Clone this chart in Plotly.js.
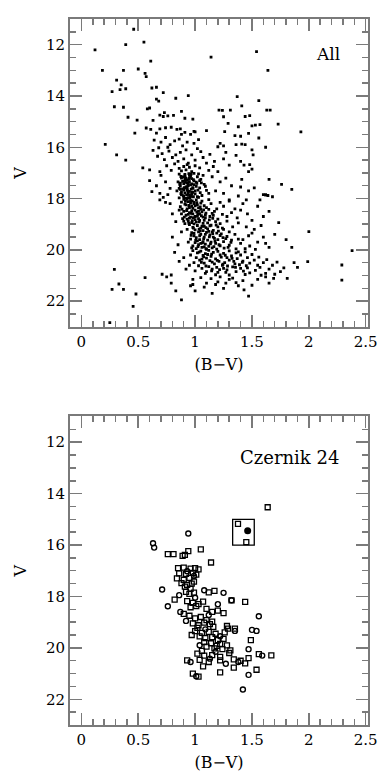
<!DOCTYPE html>
<html>
<head>
<meta charset="utf-8">
<script src="https://cdn.plot.ly/plotly-3.0.1.min.js"></script>
<style>
  html, body { margin: 0; padding: 0; background: #fff; }
  #cmd { width: 387px; height: 782px; }
</style>
</head>
<body>
<div id="cmd"></div>
<script>
// ---- data: (B-V, V) pairs ----

// top panel "All": sparse bright stars
const allBright = [
  [0.46,11.4],[0.55,11.9],[0.12,12.2],[0.39,12.0],[0.61,12.64],[0.185,13.0],[0.37,13.0],[0.5,12.95],
  [1.14,12.49],[1.54,12.27],[1.64,13.0],[0.56,13.12],[0.57,13.25],[0.31,13.38],[0.35,13.57],[0.27,13.83],
  [0.34,13.75],[0.39,13.72],[0.62,13.69],[0.66,13.66],[0.72,13.87],[0.94,13.99],[1.37,14.03],[0.83,14.09],
  [0.66,14.12],[0.68,14.2],[1.56,14.18],[0.29,14.42],[0.37,14.44],[0.6,14.47],[0.58,14.5],[1.41,14.39],
  [1.21,14.55],[1.24,14.56],[1.31,14.55],[1.63,14.55],[1.66,14.55],[0.69,14.75],[0.72,14.8],[0.76,14.78],
  [0.81,14.76],[0.91,14.87],[0.49,14.94],[0.41,14.83],[1.25,14.81],[1.44,14.8],[1.48,14.77],[0.73,14.65],
  [0.63,14.95],[0.88,14.6],[0.98,14.9]
];

// top panel: V 15 - 17
const allUpper = [
  [1.29,15.07],[1.38,15.2],[1.5,15.17],[1.53,15.14],[1.57,15.12],[1.73,15.1],[0.47,15.45],[0.57,15.25],
  [0.61,15.3],[0.66,15.45],[0.69,15.28],[0.74,15.24],[0.79,15.22],[0.84,15.3],[0.87,15.28],[0.88,15.5],
  [0.91,15.42],[0.96,15.5],[0.99,15.38],[1.1,15.35],[1.0,15.4],[1.26,15.39],[1.93,15.4],[1.35,15.55],
  [1.4,15.57],[1.47,15.46],[1.56,15.64],[1.03,15.7],[0.99,15.85],[1.22,15.85],[1.25,15.95],[1.2,15.98],
  [1.36,15.9],[1.41,15.88],[1.44,15.9],[1.62,16.0],[0.21,15.89],[0.64,15.72],[0.7,15.8],[0.74,15.62],
  [0.78,15.9],[0.82,15.75],[0.86,15.68],[0.93,15.8],[0.76,16.0],[0.89,15.95],[0.68,16.02],
  [0.31,16.3],[0.39,16.5],[0.54,16.8],[0.6,16.88],[1.5,16.1],[1.51,16.3],[1.05,16.17],[1.36,16.32],
  [1.4,16.55],[1.43,16.7],[1.48,16.68],[1.5,16.85],[1.47,16.95],[0.63,16.12],[0.67,16.35],[0.71,16.25],
  [0.73,16.48],[0.77,16.15],[0.8,16.4],[0.83,16.3],[0.85,16.55],[0.87,16.2],[0.9,16.45],[0.92,16.1],
  [0.94,16.62],[0.97,16.3],[1.0,16.5],[1.02,16.05],[1.07,16.4],[1.1,16.62],[1.13,16.28],[1.17,16.55],
  [1.0,16.72],[1.04,16.8],[1.12,16.9],[1.16,16.75],[1.2,16.95],[0.75,16.72],[0.79,16.9],[0.82,16.65],
  [0.86,16.82],[0.88,16.92],[0.9,16.75],[0.92,16.88],[0.95,16.78],[0.97,16.95],[0.93,16.68],[1.25,16.45],
  [1.3,16.7],[1.27,16.2],[0.69,16.95]
];

// top panel: V 17 - 18
const all17 = [
  [0.86,17.05],[0.91,17.12],[0.95,17.08],[0.88,17.2],[1.02,17.15],[0.93,17.28],[0.97,17.22],[0.85,17.35],
  [0.99,17.31],[1.05,17.25],[0.9,17.42],[0.94,17.38],[0.87,17.5],[1.08,17.45],[0.96,17.47],[0.92,17.55],
  [1.01,17.52],[0.89,17.62],[0.98,17.6],[1.04,17.58],[0.84,17.7],[0.93,17.66],[0.95,17.72],[1.1,17.68],
  [0.91,17.78],[0.97,17.75],[0.88,17.85],[1.0,17.82],[0.94,17.8],[1.06,17.88],[0.9,17.92],[0.96,17.9],
  [0.86,17.97],[1.03,17.95],[0.92,17.99],[0.99,17.02],[0.95,17.18],[0.89,17.33],[1.07,17.1],[0.93,17.4],
  [0.98,17.57],[0.87,17.64],[1.01,17.36],[0.94,17.49],[0.91,17.27],[1.12,17.8],[0.96,17.13],[0.9,17.67],
  [0.97,17.43],[1.02,17.93],[0.88,17.74],[0.93,17.54],[0.95,17.87],[1.04,17.3],[0.92,17.21],[0.99,17.46],
  [0.86,17.6],[0.94,17.96],[1.0,17.7],[0.91,17.06],[0.97,17.84],[0.89,17.16],[1.09,17.52],[0.95,17.34],
  [0.93,17.62],[0.98,17.76],[0.87,17.4],[1.03,17.04],[0.96,17.91],[0.92,17.58],
  [0.875,17.14],[0.915,17.19],[0.945,17.03],[0.985,17.26],[1.015,17.41],[0.865,17.45],[0.905,17.57],[0.935,17.71],
  [0.965,17.63],[1.025,17.67],[0.895,17.89],[0.955,17.98],[0.985,17.93],[1.045,17.77],[0.915,17.37],[0.875,17.81],
  [1.055,17.39],[0.945,17.24],[0.925,17.86],[0.965,17.05],
  [1.41,17.25],[1.65,17.25],[1.76,17.45],[1.85,17.64],[1.4,17.55],[1.47,17.7],[1.52,17.58],[1.6,17.85],
  [1.64,17.88],[1.38,17.9],[1.62,17.86],[1.68,17.93],[0.62,17.73],[0.69,17.8],[0.72,17.95],[0.76,17.85],
  [1.27,17.2],[1.32,17.5],[1.22,17.35],[1.18,17.7],[1.25,17.8],[1.15,17.15],[0.7,17.1],[0.74,17.35],
  [0.78,17.6],[0.6,17.3],[0.66,17.5]
];

// top panel: V 18 - 19
const all18 = [
  [0.9,18.03],[0.96,18.08],[1.01,18.05],[0.88,18.14],[0.94,18.12],[1.05,18.18],[0.99,18.2],[0.92,18.25],
  [1.08,18.28],[0.87,18.32],[0.97,18.3],[1.03,18.36],[0.93,18.4],[1.12,18.42],[1.0,18.45],[0.9,18.5],
  [0.95,18.55],[1.06,18.52],[0.98,18.6],[1.15,18.58],[0.92,18.65],[1.02,18.68],[0.96,18.72],[1.09,18.75],
  [0.89,18.78],[1.0,18.82],[1.04,18.85],[0.94,18.88],[1.18,18.9],[0.97,18.94],[1.07,18.97],[0.91,18.98],
  [1.13,18.7],[1.2,18.8],[0.99,18.15],[1.02,18.25],[0.95,18.35],[1.1,18.35],[0.86,18.45],[1.04,18.6],
  [1.0,18.7],[0.93,18.8],[1.11,18.95],[1.16,18.65],[0.97,18.48],[1.06,18.1],[0.91,18.22],[1.01,18.92],
  [0.98,18.38],[1.14,18.2],[0.94,18.62],[1.08,18.85],[1.03,18.5],[0.96,18.18],[1.22,18.98],[0.9,18.88],
  [1.05,18.42],[1.0,18.28],[1.17,18.5],[0.95,18.76],[1.12,18.04],[0.88,18.6],[1.09,18.64],[0.99,18.99],
  [1.03,18.78],[0.93,18.02],[1.19,18.4],[1.07,18.72],
  [0.915,18.11],[0.945,18.27],[0.975,18.09],[1.015,18.16],[1.045,18.33],[0.885,18.41],[0.925,18.47],[0.965,18.58],
  [1.025,18.62],[1.075,18.44],[0.905,18.72],[0.985,18.74],[1.055,18.67],[1.125,18.83],[0.945,18.97],[1.035,18.91],
  [1.095,18.57],[0.975,18.86],[1.155,18.77],[1.015,18.53],
  [1.25,18.3],[1.32,18.55],[1.28,18.88],[1.37,18.75],[1.22,18.15],[1.4,18.45],[1.3,18.05],[1.24,18.62],
  [0.69,18.05],[0.74,18.15],[0.78,18.2],[0.8,18.6],[0.83,18.9],[1.3,18.1],[1.35,18.4],[1.42,18.2],
  [1.46,18.6],[1.5,18.85],[1.55,18.3],[1.6,18.7],[1.735,18.94],[1.28,18.7],[1.38,18.95],[1.65,18.5],
  [1.45,18.05],[1.57,18.05],[1.62,17.86]
];

// top panel: V 19 - 20
const all19 = [
  [0.95,19.02],[1.02,19.05],[1.08,19.08],[1.14,19.04],[0.98,19.12],[1.05,19.15],[1.2,19.1],[1.11,19.18],
  [0.93,19.2],[1.0,19.22],[1.07,19.25],[1.16,19.24],[1.25,19.2],[1.03,19.3],[0.97,19.33],[1.1,19.32],
  [1.19,19.35],[1.3,19.3],[1.05,19.4],[1.13,19.42],[0.99,19.45],[1.22,19.44],[1.08,19.5],[1.01,19.52],
  [1.16,19.5],[1.28,19.48],[1.35,19.4],[0.96,19.58],[1.04,19.6],[1.11,19.62],[1.2,19.6],[1.07,19.68],
  [1.14,19.7],[1.0,19.72],[1.25,19.68],[1.32,19.62],[1.18,19.75],[1.03,19.8],[1.09,19.78],[1.4,19.75],
  [0.98,19.85],[1.12,19.86],[1.22,19.84],[1.06,19.9],[1.15,19.92],[1.29,19.9],[1.01,19.95],[1.19,19.97],
  [1.36,19.96],[1.1,19.98],[0.94,19.7],[1.24,19.15],[1.33,19.1],[1.17,19.55],[1.06,19.08],[1.12,19.28],
  [0.99,19.36],[1.27,19.56],[1.02,19.65],[1.09,19.4],[1.21,19.8],[1.13,19.06],[1.04,19.45],[1.3,19.82],
  [1.15,19.3],[1.08,19.88],[0.97,19.92],[1.38,19.58],[1.23,19.38],[1.05,19.75],
  [0.985,19.15],[1.035,19.19],[1.095,19.13],[1.155,19.37],[1.045,19.27],[1.075,19.57],[1.125,19.49],[1.005,19.63],
  [1.175,19.66],[1.245,19.52],[1.065,19.73],[1.135,19.77],[1.025,19.87],[1.165,19.87],[1.255,19.93],[1.095,19.95],
  [1.205,19.27],[1.185,19.03],[1.315,19.71],[0.965,19.43],
  [1.45,19.1],[1.5,19.35],[1.42,19.6],[1.55,19.7],[1.48,19.85],[1.6,19.5],[1.65,19.9],[1.52,19.2],
  [1.44,19.95],[1.58,19.05],[1.7,19.4],[1.8,19.6],[1.85,19.9],[1.62,19.75],[1.47,19.45],[1.53,19.98],
  [0.45,19.27],[2.0,19.29],[0.8,19.5],[0.85,19.8],[0.88,19.3]
];

// top panel: V 20 - 23
const all20 = [
  [0.98,20.03],[1.05,20.05],[1.12,20.02],[1.2,20.06],[1.3,20.04],[1.02,20.12],[1.09,20.15],[1.16,20.1],
  [1.25,20.14],[1.36,20.12],[1.44,20.08],[0.96,20.2],[1.07,20.22],[1.14,20.25],[1.22,20.2],[1.32,20.24],
  [1.4,20.2],[1.5,20.18],[1.01,20.3],[1.1,20.32],[1.18,20.35],[1.28,20.3],[1.37,20.34],[1.46,20.3],
  [1.56,20.28],[1.04,20.4],[1.13,20.42],[1.21,20.45],[1.3,20.4],[1.42,20.44],[1.52,20.4],[1.63,20.38],
  [0.99,20.5],[1.08,20.52],[1.17,20.55],[1.26,20.5],[1.35,20.55],[1.48,20.52],[1.6,20.5],[1.72,20.48],
  [1.03,20.62],[1.12,20.65],[1.24,20.6],[1.33,20.66],[1.45,20.62],[1.57,20.68],[1.68,20.6],[1.06,20.72],
  [1.15,20.75],[1.28,20.78],[1.4,20.72],[1.53,20.8],[1.65,20.75],[1.78,20.7],[1.1,20.85],[1.2,20.88],
  [1.36,20.85],[1.48,20.9],[1.62,20.92],[1.75,20.85],[1.18,20.97],[1.3,20.98],[1.44,20.96],[1.58,20.99],
  [1.7,20.95],[0.95,20.6],[1.0,20.82],[1.23,20.28],[1.34,20.45],[1.11,20.18],[1.19,20.68],[1.27,20.88],
  [1.39,20.58],[1.06,20.36],[1.15,20.48],[1.46,20.7],[1.55,20.6],[1.09,20.92],[1.38,20.08],[1.25,20.72],
  [1.035,20.09],[1.145,20.17],[1.265,20.21],[1.075,20.27],[1.195,20.41],[1.325,20.33],[1.055,20.49],[1.245,20.56],
  [1.415,20.49],[1.095,20.63],[1.215,20.77],[1.355,20.68],[1.145,20.82],[1.285,20.63],[1.425,20.83],
  [1.05,21.08],[1.14,21.12],[1.22,21.05],[1.33,21.1],[1.42,21.2],[1.55,21.15],[1.62,21.05],[1.27,21.3],
  [1.18,21.35],[1.36,21.28],[1.5,21.38],[0.98,21.15],[1.08,21.45],[1.65,21.3],
  [2.38,20.03],[1.99,20.46],[1.87,20.5],[1.9,20.68],[1.81,21.11],[1.69,21.11],[0.29,20.76],[0.56,21.08],
  [0.71,20.95],[0.75,21.05],[0.79,20.98],[2.29,20.59],[0.33,21.33],[0.27,21.54],[0.37,21.54],[0.48,21.72],
  [0.455,22.2],[0.25,22.84],[0.79,21.3],[0.83,21.6],[0.88,21.95],[0.96,21.4],[0.98,21.35],[1.47,21.8],
  [1.43,21.56],[2.29,21.18],[1.1,21.3],[1.2,21.25],[1.3,21.15],[1.25,21.5],[1.38,21.4],[1.0,21.6],
  [1.15,21.7],[0.82,20.1],[0.86,20.45],[0.9,20.3],[0.92,20.75]
];

// bottom panel "Czernik 24": open squares
const czSquares = [
  [1.638,14.53],[1.377,15.18],[1.45,15.89],[0.76,16.35],[0.81,16.35],[0.89,16.42],[0.91,16.38],[0.94,16.24],
  [1.05,16.17],[1.14,16.68],[0.85,16.9],[0.9,16.88],[0.96,16.92],[1.0,16.9],[1.03,16.95],[0.86,17.1],
  [0.92,17.12],[0.98,17.08],[1.01,17.15],[0.84,17.3],[0.9,17.35],[0.95,17.28],[0.99,17.42],[0.88,17.48],
  [0.93,17.55],[0.97,17.5],[0.91,17.62],[0.96,17.7],[0.92,17.82],[0.95,17.9],[0.99,17.85],[1.17,17.78],
  [1.12,17.84],[1.44,18.21],[0.82,18.12],[0.93,18.18],[0.98,18.25],[1.03,18.3],[1.07,18.2],[0.96,18.42],
  [1.01,18.38],[1.1,18.48],[1.15,18.6],[1.2,18.55],[1.25,18.65],[0.9,18.68],[0.95,18.75],[1.0,18.85],
  [1.05,18.8],[1.1,18.92],[1.15,18.98],[1.32,18.15],[1.49,19.7],[1.28,19.15],[1.35,19.25],[0.98,19.05],
  [1.03,19.12],[1.08,19.02],[1.13,19.08],[1.0,19.35],[1.06,19.42],[1.12,19.38],[1.18,19.45],[1.04,19.55],
  [1.09,19.62],[1.15,19.58],[1.2,19.7],[1.25,19.65],[1.08,19.78],[1.14,19.82],[1.22,19.85],[1.28,19.9],
  [1.1,19.95],[1.17,20.02],[1.24,20.05],[1.31,20.1],[1.67,20.29],[1.56,20.24],[1.02,20.22],[1.08,20.3],
  [1.15,20.28],[1.22,20.35],[1.34,20.45],[1.4,20.5],[1.44,20.6],[0.93,20.49],[1.04,20.47],[1.12,20.55],
  [1.22,20.49],[1.34,20.77],[1.54,20.85],[1.22,20.95],[0.98,21.0],[1.03,21.12],[1.07,20.72],[1.29,19.25],
  [1.02,19.22],[0.97,19.5],[1.16,19.18],[1.26,19.4],[1.06,20.12],[1.19,19.92],[1.3,20.2],[1.47,20.4]
];

// bottom panel: open circles
const czCircles = [
  [0.94,15.55],[0.63,15.93],[0.64,16.1],[0.71,17.73],[1.08,17.76],[1.25,17.86],[1.32,18.15],[0.76,18.38],
  [0.87,18.6],[1.56,18.77],[1.5,19.3],[1.54,19.34],[1.35,19.34],[1.47,20.05],[1.59,20.3],[1.47,21.05],
  [1.42,21.62],[0.96,20.55],[1.01,21.1],[0.92,18.95],[1.12,18.72],[1.04,19.9],[1.18,20.15],[0.99,17.2],
  [1.22,19.55],[1.27,20.62],[0.86,17.95],[1.0,18.05],[1.13,20.42],[1.38,20.55],[1.2,18.3],[0.93,17.02],
  [1.09,19.28]
];

// bottom panel: filled star inside the box, and the box corners
const czFilled = [[1.462,15.44]];
const boxBV = [1.33, 1.52];
const boxV = [15.0, 16.0];

const xTickVals = [0, 0.5, 1, 1.5, 2, 2.5];
const yTickVals = [12, 14, 16, 18, 20, 22];

// ---- build traces ----
const allStars = [].concat(allBright, allUpper, all17, all18, all19, all20);

const gray = '#7a7a7a';

function pts(arr, i) { return arr.map(function(p){ return p[i]; }); }

let traceAll = {
  x: pts(allStars, 0), y: pts(allStars, 1),
  xaxis: 'x', yaxis: 'y',
  type: 'scatter', mode: 'markers', hoverinfo: 'none',
  marker: {symbol: 'square', size: 2.8, color: '#000', line: {width: 0}}
};

let traceSq = {
  x: pts(czSquares, 0), y: pts(czSquares, 1),
  xaxis: 'x2', yaxis: 'y2',
  type: 'scatter', mode: 'markers', hoverinfo: 'none',
  marker: {symbol: 'square-open', size: 5, color: '#000', line: {width: 1.3, color: '#000'}}
};

let traceCi = {
  x: pts(czCircles, 0), y: pts(czCircles, 1),
  xaxis: 'x2', yaxis: 'y2',
  type: 'scatter', mode: 'markers', hoverinfo: 'none',
  marker: {symbol: 'circle-open', size: 5, color: '#000', line: {width: 1.4, color: '#000'}}
};

let traceFill = {
  x: pts(czFilled, 0), y: pts(czFilled, 1),
  xaxis: 'x2', yaxis: 'y2',
  type: 'scatter', mode: 'markers', hoverinfo: 'none',
  marker: {symbol: 'circle', size: 7, color: '#000'}
};

function xAxis(anchor) {
  return {
    anchor: anchor, domain: [0, 1], range: [-0.1, 2.52],
    tickmode: 'array', tickvals: xTickVals,
    ticks: 'inside', ticklen: 12, tickwidth: 1.5, tickcolor: gray,
    minor: {dtick: 0.1, tick0: 0, ticks: 'inside', ticklen: 6, tickwidth: 1.5, tickcolor: gray},
    showline: true, linecolor: gray, linewidth: 2, mirror: 'allticks',
    showgrid: false, zeroline: false,
    tickfont: {family: 'DejaVu Serif', size: 15, color: '#000'},
    title: {text: '(B\u2212V)', font: {family: 'DejaVu Serif', size: 16, color: '#000'}, standoff: 9}
  };
}

function yAxis(anchor, domain) {
  return {
    anchor: anchor, domain: domain, range: [23, 11],
    tickmode: 'array', tickvals: yTickVals,
    ticks: 'inside', ticklen: 12, tickwidth: 1.5, tickcolor: gray,
    minor: {dtick: 0.5, tick0: 0, ticks: 'inside', ticklen: 6, tickwidth: 1.5, tickcolor: gray},
    showline: true, linecolor: gray, linewidth: 2, mirror: 'allticks',
    showgrid: false, zeroline: false,
    tickfont: {family: 'DejaVu Serif', size: 15, color: '#000'},
    title: {text: 'V', font: {family: 'DejaVu Serif', size: 16, color: '#000'}, standoff: 15}
  };
}

let layout = {
  width: 387, height: 782,
  paper_bgcolor: '#fff', plot_bgcolor: '#fff',
  margin: {l: 70, r: 19, t: 19, b: 57},
  showlegend: false,
  font: {family: 'DejaVu Serif', size: 15, color: '#000'},
  xaxis: xAxis('y'),
  yaxis: yAxis('x', [0.564, 1]),
  xaxis2: xAxis('y2'),
  yaxis2: yAxis('x2', [0, 0.437]),
  shapes: [{
    type: 'rect', xref: 'x2', yref: 'y2',
    x0: boxBV[0], x1: boxBV[1], y0: boxV[0], y1: boxV[1],
    line: {color: '#000', width: 1.3}
  }],
  annotations: [
    {text: 'All', xref: 'x', yref: 'y', x: 2.17, y: 12.36, showarrow: false,
     font: {family: 'DejaVu Serif', size: 17, color: '#000'}},
    {text: 'Czernik 24', xref: 'x2', yref: 'y2', x: 1.83, y: 12.61, showarrow: false,
     font: {family: 'DejaVu Serif', size: 18, color: '#000'}}
  ]
};

Plotly.newPlot('cmd', [traceAll, traceSq, traceCi, traceFill], layout, {staticPlot: true, displayModeBar: false});
</script>
</body>
</html>
